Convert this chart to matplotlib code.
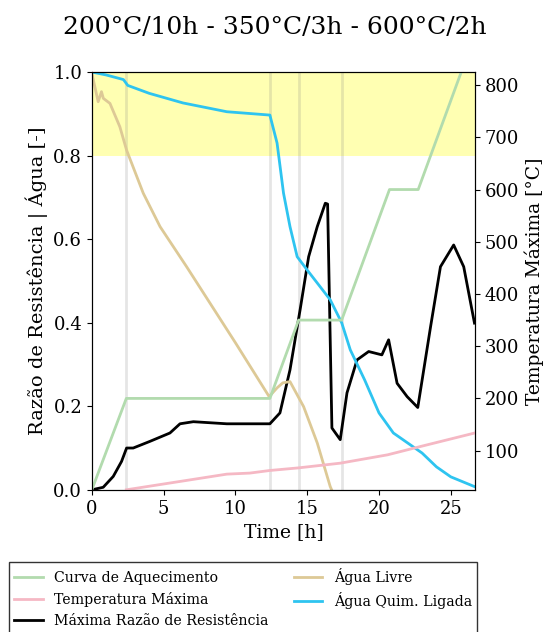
import matplotlib.pyplot as plt

plt.rcParams['font.family'] = 'DejaVu Serif'
plt.rcParams['font.size'] = 12.5

# curva de aquecimento do forno (°C)
t_forno = [0, 2.4, 12.4, 14.4, 17.4, 20.73, 22.73, 26.7]
T_forno = [25, 200, 200, 350, 350, 600, 600, 898]

# temperatura maxima (°C)
t_tmax = [2.4, 5.44, 9.4, 11.0, 12.4, 14.4, 17.3, 20.6, 22.9, 26.7]
T_tmax = [25, 38, 55, 57, 62, 67, 76, 92, 108, 134]

# maxima razao de resistencia
t_rr = [0, 0.79, 1.49, 2.07, 2.42, 2.88, 4.05, 5.44, 6.14, 7.07, 9.4, 12.4, 13.1, 13.8, 14.5,
        15.1, 15.7, 16.26, 16.42, 16.72, 17.3, 17.77, 18.47, 19.28, 20.2, 20.67, 21.26,
        21.96, 22.7, 23.59, 24.28, 25.2, 25.9, 26.65]
rr = [0, 0.006, 0.032, 0.068, 0.1, 0.1, 0.116, 0.136, 0.158, 0.163, 0.158, 0.158, 0.184,
      0.287, 0.43, 0.558, 0.63, 0.686, 0.684, 0.148, 0.12, 0.232, 0.311, 0.331, 0.323,
      0.359, 0.255, 0.223, 0.197, 0.39, 0.534, 0.586, 0.534, 0.399]

# agua livre
t_livre = [0, 0.44, 0.67, 0.8, 1.26, 1.95, 2.42, 3.58, 4.75, 6.6, 10.0, 12.35, 12.9,
           13.3, 13.8, 14.75, 15.7, 16.6, 16.7]
livre = [0.997, 0.929, 0.953, 0.937, 0.925, 0.869, 0.813, 0.71, 0.63, 0.534, 0.352,
         0.223, 0.244, 0.256, 0.259, 0.199, 0.112, 0.008, 0.0]

# agua quimicamente ligada
t_lig = [0, 1, 2.2, 2.5, 4, 6.35, 9.4, 12.4, 12.9, 13.35, 13.8, 14.3, 15.0, 15.7, 16.6,
         17.4, 18, 19, 20, 21, 22, 23, 24, 25, 26.7]
lig = [1.0, 0.993, 0.982, 0.968, 0.949, 0.926, 0.905, 0.897, 0.83, 0.71, 0.63, 0.558,
       0.526, 0.495, 0.455, 0.4, 0.335, 0.263, 0.184, 0.136, 0.112, 0.088, 0.055, 0.031, 0.007]

patamares = [2.4, 12.4, 14.4, 17.4]

fig = plt.figure(figsize=(5.5, 6.32), dpi=100)
ax = fig.add_axes([0.167, 0.225, 0.697, 0.661])
ax2 = ax.twinx()

ax.axhspan(0.8, 1.0, color='yellow', alpha=0.3, lw=0)
for p in patamares:
    ax.axvline(p, color='gray', alpha=0.2, lw=2)

l1, = ax2.plot(t_forno, T_forno, color='#b2dbae', lw=2, label='Curva de Aquecimento')
l2, = ax2.plot(t_tmax, T_tmax, color='#f5b8c4', lw=2, label='Temperatura Máxima')
l3, = ax.plot(t_rr, rr, color='black', lw=2, label='Máxima Razão de Resistência')
l4, = ax.plot(t_livre, livre, color='#ddc996', lw=2, label='Água Livre')
l5, = ax.plot(t_lig, lig, color='#2ec4f0', lw=2, label='Água Quim. Ligada')

ax.set_xlim(0, 26.7)
ax.set_ylim(0, 1)
ax2.set_ylim(25, 825)
ax2.set_yticks([100, 200, 300, 400, 500, 600, 700, 800])
ax.tick_params(labelsize=13)
ax2.tick_params(labelsize=13)
ax.set_xlabel('Time [h]', fontsize=13.5)
ax.set_ylabel('Razão de Resistência | Água [-]', fontsize=14)
ax2.set_ylabel('Temperatura Máxima [°C]', fontsize=13.5)
fig.suptitle('200°C/10h - 350°C/3h - 600°C/2h', fontsize=18, y=0.975)

fig.legend(handles=[l1, l2, l3, l4, l5], ncol=2, loc='upper left',
           bbox_to_anchor=(0.016, 0.11), fontsize=10.2, fancybox=False,
           edgecolor='black', borderaxespad=0, columnspacing=1.8)

fig.savefig('out.png', dpi=100)
